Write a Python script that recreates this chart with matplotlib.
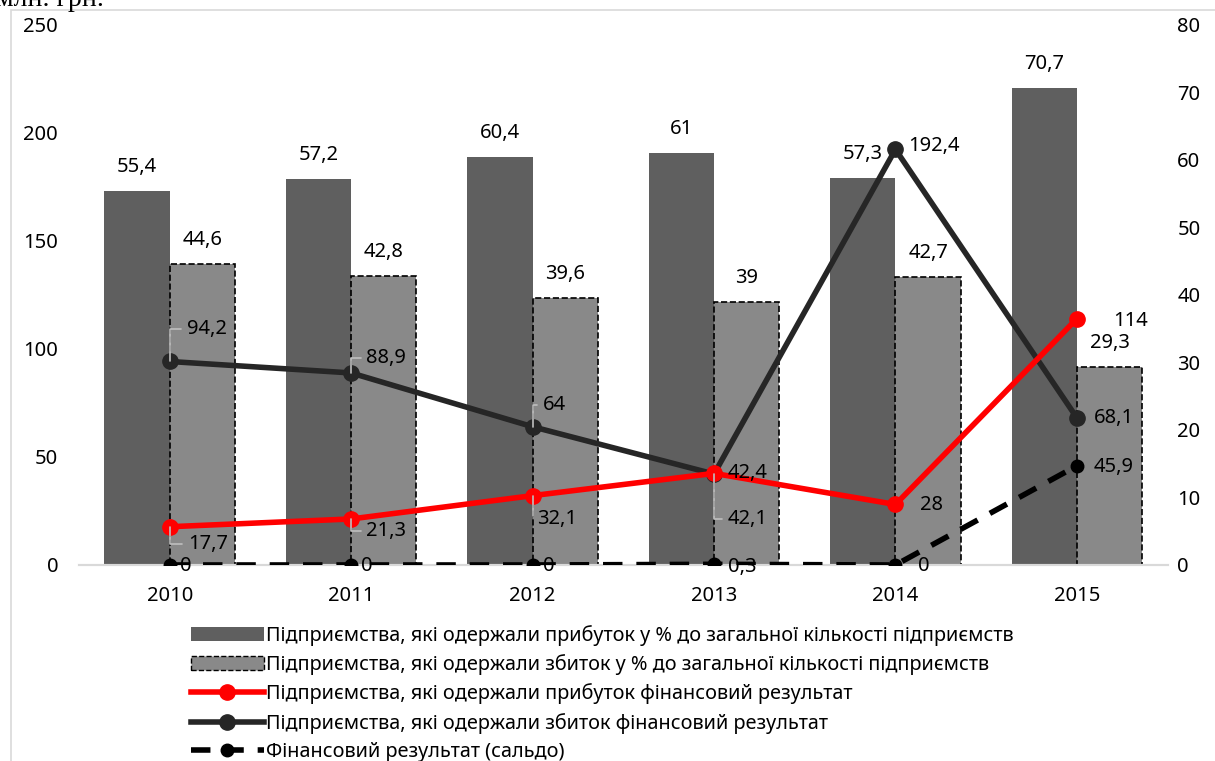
import numpy as np
import matplotlib
matplotlib.use("Agg")
import matplotlib.pyplot as plt
from matplotlib.patches import Patch, Rectangle
from matplotlib.lines import Line2D

years = ["2010", "2011", "2012", "2013", "2014", "2015"]
profit_pct = [55.4, 57.2, 60.4, 61, 57.3, 70.7]
loss_pct = [44.6, 42.8, 39.6, 39, 42.7, 29.3]
profit_res = [17.7, 21.3, 32.1, 42.4, 28, 114]
loss_res = [94.2, 88.9, 64, 42.1, 192.4, 68.1]
saldo = [0, 0, 0, 0.3, 0, 45.9]

plt.rcParams['font.family'] = ['Noto Sans', 'DejaVu Sans']
FS = 14.5


def fmt(v):
    return f"{v:g}".replace(".", ",")


fig = plt.figure(figsize=(12.15, 7.61), dpi=100)
ax = fig.add_axes([0.065, 0.2576, 0.896, 0.7096])
ax2 = ax.twinx()

x = np.arange(len(years))
w = 0.36

# bars on percentage axis (right side)
ax.bar(x - w, profit_pct, w, align='edge', color='#5f5f5f', zorder=2)
ax.bar(x, loss_pct, w, align='edge', color='#898989', edgecolor='black',
       linestyle='--', linewidth=1.2, zorder=2)
for xi, v in zip(x, profit_pct):
    ax.annotate(fmt(v), (xi - w / 2, v), xytext=(0, 24), textcoords='offset pixels',
                ha='center', va='center', fontsize=FS)
for xi, v in zip(x, loss_pct):
    ax.annotate(fmt(v), (xi + w / 2, v), xytext=(0, 24), textcoords='offset pixels',
                ha='center', va='center', fontsize=FS)

ax.set_ylim(0, 80)
ax.set_yticks(range(0, 81, 10))
ax.yaxis.tick_right()
ax.set_xlim(-0.5, 5.5)
ax.set_xticks(x)
ax.set_xticklabels(years)

# lines on money axis (left side)
ax2.plot(x, profit_res, color='#ff0000', lw=4, marker='o', ms=11, zorder=5)
ax2.plot(x, loss_res, color='#262626', lw=4, marker='o', ms=11, zorder=4)
ax2.plot(x, saldo, color='black', lw=4, ls=(0, (3.5, 2.5)), marker='o', ms=9,
         zorder=6)
ax2.set_ylim(0, 250)
ax2.set_yticks(range(0, 251, 50))
ax2.yaxis.tick_left()

leader = dict(arrowstyle='-', color='#bfbfbf', lw=1.2,
              connectionstyle='angle,angleA=0,angleB=90', relpos=(0, 0.5),
              shrinkA=2, shrinkB=0)

loss_off = [(37, 32), (35, 15), (22, 22), (34, -45), (38, 3), (37, 0)]
loss_lead = [True, True, True, True, False, False]
for xi, v, (dx, dy), ld in zip(x, loss_res, loss_off, loss_lead):
    ax2.annotate(fmt(v), (xi, v), xytext=(dx, dy), textcoords='offset pixels',
                 ha='center', va='center', fontsize=FS, zorder=7,
                 arrowprops=leader if ld else None)

profit_off = [(38, -17), (35, -12), (24, -23), (34, 0), (36, -1), (54, -2)]
profit_lead = [True, True, True, False, False, False]
for xi, v, (dx, dy), ld in zip(x, profit_res, profit_off, profit_lead):
    ax2.annotate(fmt(v), (xi, v), xytext=(dx, dy), textcoords='offset pixels',
                 ha='center', va='center', fontsize=FS, zorder=7,
                 arrowprops=leader if ld else None)

saldo_off = [(16, -1), (16, -1), (16, -1), (28, -3), (28, -1), (37, -1)]
for xi, v, (dx, dy) in zip(x, saldo, saldo_off):
    ax2.annotate(fmt(v), (xi, v), xytext=(dx, dy), textcoords='offset pixels',
                 ha='center', va='center', fontsize=FS, zorder=7)

for a in (ax, ax2):
    for s in ('top', 'left', 'right'):
        a.spines[s].set_visible(False)
    a.spines['bottom'].set_color('#d9d9d9')
    a.spines['bottom'].set_linewidth(1.5)
    a.tick_params(length=0, labelsize=FS)
ax.tick_params(axis='x', pad=15)
ax.tick_params(axis='y', pad=7)
ax2.tick_params(axis='y', pad=15)

handles = [
    Patch(facecolor='#5f5f5f'),
    Patch(facecolor='#898989', edgecolor='black', linestyle='--'),
    Line2D([], [], color='#ff0000', lw=4, marker='o', ms=11),
    Line2D([], [], color='#262626', lw=4, marker='o', ms=11),
    Line2D([], [], color='black', lw=4, ls=(0, (3.5, 2.5)), marker='o', ms=9),
]
labels = [
    "Підприємства, які одержали прибуток у % до загальної кількості підприємств",
    "Підприємства, які одержали збиток у % до загальної кількості підприємств",
    "Підприємства, які одержали прибуток фінансовий результат",
    "Підприємства, які одержали збиток фінансовий результат",
    "Фінансовий результат (сальдо)",
]
fig.legend(handles, labels, loc='upper left', bbox_to_anchor=(0.157, 0.179),
           frameon=False, fontsize=14.3, handlelength=3.7, handletextpad=0.1,
           labelspacing=0.42, borderaxespad=0, borderpad=0)

fig.patches.append(Rectangle((0.009, -0.1), 1.2, 1.087, transform=fig.transFigure,
                             fill=False, edgecolor='#d9d9d9', lw=1.2))
fig.text(-0.003, 1.0, "млн. грн.", family='Liberation Serif', fontsize=20,
         ha='left', va='center')

fig.savefig("out.png", dpi=100)
